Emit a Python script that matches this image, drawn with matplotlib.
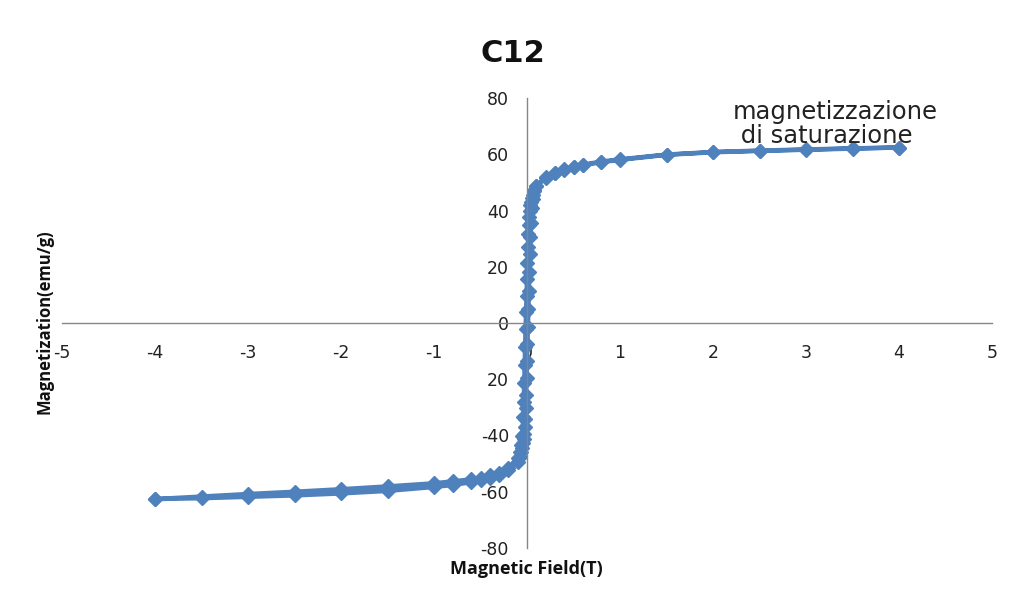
import matplotlib
matplotlib.use("Agg")
import matplotlib.pyplot as plt

# Field sweep from +4 T down to -4 T
field_down = [4, 3.5, 3, 2.5, 2, 1.5, 1, 0.8, 0.6, 0.5,
              0.4, 0.3, 0.2, 0.1, 0.08, 0.06, 0.05, 0.04, 0.035, 0.03,
              0.025, 0.02, 0.015, 0.01, 0.005, 0, -0.005, -0.01, -0.015, -0.02,
              -0.025, -0.03, -0.035, -0.04, -0.05, -0.06, -0.08, -0.1, -0.2, -0.3,
              -0.4, -0.5, -0.6, -0.8, -1, -1.5, -2, -2.5, -3, -3.5,
              -4]
mag_down = [62.4, 62.1, 61.7, 61.3, 60.8, 59.9, 58.2, 57.4, 56.3, 55.5,
            54.6, 53.5, 51.8, 48.8, 47.4, 45.6, 44.6, 43.2, 41.8, 40.0,
            37.8, 35.0, 31.5, 27.0, 21.5, 15.5, 9.5, 4.0, -2.0, -8.5,
            -15.0, -21.5, -28.0, -33.5, -40.0, -43.5, -46.0, -48.0, -51.5, -53.2,
            -54.2, -55.0, -55.6, -56.3, -57.0, -58.1, -59.1, -60.0, -60.8, -61.7,
            -62.6]

# Field sweep back from -4 T up to +4 T
field_up = [-4, -3.5, -3, -2.5, -2, -1.5, -1, -0.8, -0.6, -0.5,
            -0.4, -0.3, -0.2, -0.1, -0.08, -0.06, -0.05, -0.04, -0.035, -0.03,
            -0.025, -0.02, -0.015, -0.01, -0.005, 0, 0.005, 0.01, 0.015, 0.02,
            0.025, 0.03, 0.035, 0.04, 0.05, 0.06, 0.08, 0.1, 0.2, 0.3,
            0.4, 0.5, 0.6, 0.8, 1, 1.5, 2, 2.5, 3, 3.5,
            4]
mag_up = [-62.6, -62.3, -61.8, -61.3, -60.6, -59.7, -58.3, -57.6, -56.6, -55.9,
          -55.0, -53.9, -52.3, -49.5, -47.8, -45.8, -44.6, -42.8, -41.2, -39.3,
          -37.0, -34.0, -30.2, -25.5, -19.5, -13.5, -7.5, -1.5, 5.0, 11.5,
          18.0, 24.5, 30.5, 35.5, 41.0, 44.0, 47.0, 48.6, 51.6, 53.3,
          54.4, 55.3, 56.1, 57.2, 58.0, 59.8, 60.7, 61.2, 61.6, 62.0,
          62.4]

x_ticks = [-5, -4, -3, -2, -1, 0, 1, 2, 3, 4, 5]
x_tick_labels = ["-5", "-4", "-3", "-2", "-1", "0", "1", "2", "3", "4", "5"]
y_ticks = [-80, -60, -40, -20, 0, 20, 40, 60, 80]
y_tick_labels = ["-80", "-60", "-40", "20", "0", "20", "40", "60", "80"]

blue = "#4F81BD"
axis_gray = "#868686"

fig = plt.figure(figsize=(10.10, 5.94), dpi=100)
ax = fig.add_axes([62 / 1010, 46 / 594, 930 / 1010, 450 / 594])

ax.plot(field_down + field_up, mag_down + mag_up, color=blue, lw=3.2,
        marker="D", markersize=7.5, mfc=blue, mec=blue, solid_joinstyle="round")

ax.set_xlim(-5, 5)
ax.set_ylim(-80, 80)
ax.set_xticks(x_ticks)
ax.set_xticklabels(x_tick_labels)
ax.set_yticks(y_ticks)
ax.set_yticklabels(y_tick_labels)

for side in ("top", "right"):
    ax.spines[side].set_visible(False)
for side in ("left", "bottom"):
    ax.spines[side].set_position(("data", 0))
    ax.spines[side].set_color(axis_gray)
    ax.spines[side].set_linewidth(1.0)

ax.tick_params(axis="x", length=0, pad=15, labelsize=12.5, labelcolor="#222222")
ax.tick_params(axis="y", length=0, pad=13, labelsize=12.5, labelcolor="#222222")
ax.patch.set_alpha(0)

fig.text(513 / 1010, 1 - 53 / 594, "C12", ha="center", va="center",
         fontsize=22, fontweight="bold", color="#111111")
fig.text(526 / 1010, 1 - 569 / 594, "Magnetic Field(T)", ha="center", va="center",
         fontsize=13, fontweight="bold", family="Open Sans", color="#111111")
fig.text(45 / 1010, 1 - 322 / 594, "Magnetization(emu/g)", ha="center", va="center",
         rotation=90, fontsize=12, fontweight="bold", family="Open Sans",
         color="#111111")
fig.text(733 / 1010, 1 - 100 / 594, "magnetizzazione\n di saturazione",
         ha="left", va="top", fontsize=17.5, linespacing=1.0, color="#222222")

fig.savefig("out.png", dpi=100)
